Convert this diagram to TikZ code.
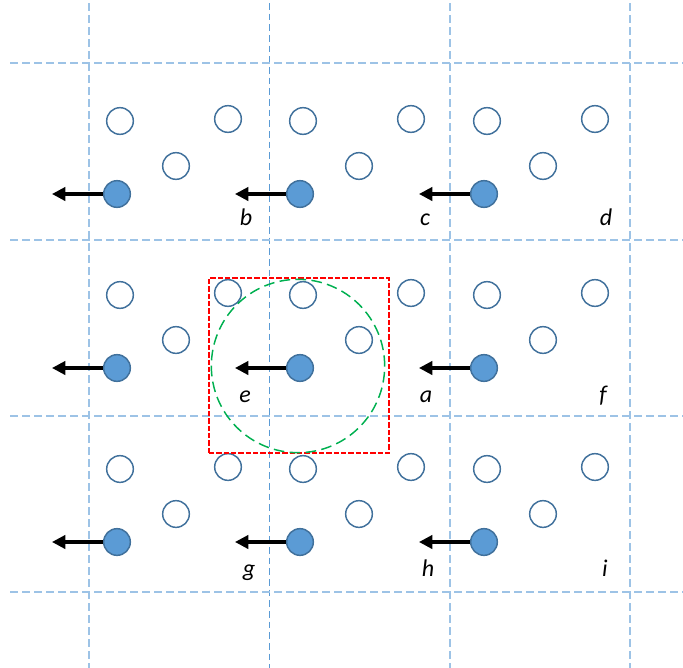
\documentclass[tikz,border=0pt]{standalone}
\usepackage{fontspec}
\setmainfont{Carlito}
\usetikzlibrary{arrows.meta}

\definecolor{atomfill}{HTML}{5B9BD5}
\definecolor{atomedge}{HTML}{41719C}
\definecolor{gridblue}{HTML}{9DC3E6}
\definecolor{cutgreen}{HTML}{00B050}

\begin{document}
\begin{tikzpicture}[x=0.75pt, y=-0.75pt, font=\itshape\fontsize{18}{20}\selectfont]
    \tikzset{
        atom/.style={circle, draw=atomedge, line width=1.1pt,
        fill=white, minimum size=20pt, inner sep=0pt},
        moved/.style={atom, fill=atomfill},
        gridline/.style={draw=gridblue, line width=1.1pt, dash pattern=on 6pt off 3pt},
        midline/.style={draw=atomfill, line width=0.6pt, dash pattern=on 5pt off 3pt},
        label/.style={anchor=base, inner sep=0pt},
        arrow/.style={line width=2.3pt, -{Triangle[length=10pt, width=10pt]}}
    }
    \useasboundingbox (0,0) rectangle (683,668);

    % cell boundaries
    \foreach \x in {89,450,630}
        \draw [gridline] (\x,3) -- (\x,668);
    \draw [midline] (269,3) -- (269,668);
    \foreach \y in {63,240,416,592}
        \draw [gridline] (10,\y) -- (683,\y);

    % atoms, one group per cell
    \foreach \cx/\col in {117/1,300/2,484/3} {
        \foreach \cy/\row in {194/1,368/2,542/3} {
            \node (o1-\col-\row) [atom] at (\cx+3,\cy-73) {};
            \node (o2-\col-\row) [atom] at (\cx+111,\cy-75) {};
            \node (o3-\col-\row) [atom] at (\cx+59,\cy-28) {};
            \coordinate (tip-\col-\row) at (\cx-65,\cy);
            \node (m-\col-\row) [moved] at (\cx,\cy) {};
            \draw [arrow] (m-\col-\row) -- (tip-\col-\row);
        }
    }

    % cutoff box and sphere
    \node (box) [draw=red, line width=1.3pt, dash pattern=on 4pt off 1.5pt,
        minimum width=135pt, minimum height=131pt, inner sep=0pt] at (299,365.5) {};
    \node (sphere) [circle, draw=cutgreen, line width=1.1pt, dash pattern=on 8pt off 4pt,
        minimum size=130pt, inner sep=0pt] at (298,366) {};

    % image labels
    \node (lb) [label] at (246,225) {b};
    \node (lc) [label] at (425,225) {c};
    \node (ld) [label] at (606,225) {d};
    \node (le) [label] at (245,402) {e};
    \node (la) [label] at (426,402) {a};
    \node (lf) [label] at (603,402) {f};
    \node (lg) [label] at (249,576) {g};
    \node (lh) [label] at (428,576) {h};
    \node (li) [label] at (605,576) {i};
\end{tikzpicture}
\end{document}
